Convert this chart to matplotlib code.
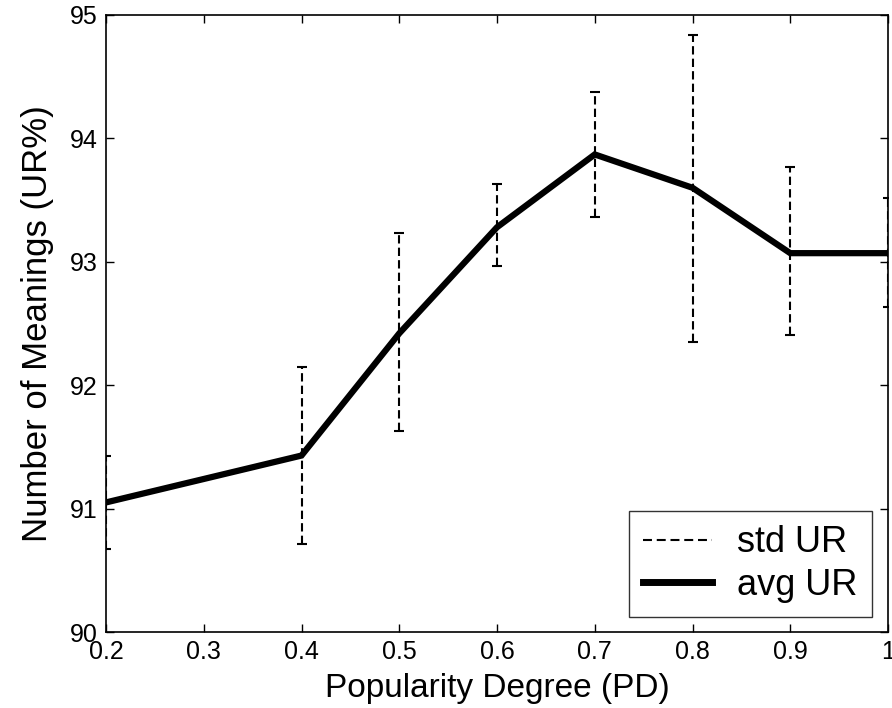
import numpy as np
import matplotlib.pyplot as plt
from matplotlib.lines import Line2D

plt.rcParams['font.family'] = ['Liberation Sans', 'DejaVu Sans']

# popularity degree values and measured UR (%)
pd_values = [0.2, 0.4, 0.5, 0.6, 0.7, 0.8, 0.9, 1.0]
avg_ur = [91.05, 91.43, 92.42, 93.28, 93.87, 93.60, 93.07, 93.07]
upper_ur = [91.43, 92.15, 93.23, 93.63, 94.38, 94.84, 93.77, 93.52]
lower_ur = [90.67, 90.71, 91.63, 92.97, 93.36, 92.35, 92.41, 92.63]

x_ticks = [0.2, 0.3, 0.4, 0.5, 0.6, 0.7, 0.8, 0.9, 1.0]
x_ticklabels = ['0.2', '0.3', '0.4', '0.5', '0.6', '0.7', '0.8', '0.9', '1']
y_ticks = [90, 91, 92, 93, 94, 95]

avg = np.array(avg_ur)
yerr = [avg - np.array(lower_ur), np.array(upper_ur) - avg]

fig = plt.figure(figsize=(8.92, 7.08), dpi=100)
ax = fig.add_axes([106 / 892, 76 / 708, 782 / 892, 617 / 708])

eb = ax.errorbar(pd_values, avg, yerr=yerr, fmt='none', ecolor='black',
                 elinewidth=1.5, capsize=3.5, capthick=1.5)
for col in eb[2]:
    col.set_linestyle((0, (4, 2)))

ax.plot(pd_values, avg, color='black', lw=4.5, solid_joinstyle='miter')

ax.set_xlim(0.2, 1.0)
ax.set_ylim(90, 95)
ax.set_xticks(x_ticks)
ax.set_xticklabels(x_ticklabels)
ax.set_yticks(y_ticks)
ax.tick_params(direction='in', top=True, right=True, length=6, width=1,
               labelsize=18, pad=6)
for s in ax.spines.values():
    s.set_linewidth(1.2)

ax.set_xlabel('Popularity Degree (PD)', fontsize=24)
ax.xaxis.set_label_coords(0.5, -0.066)
ax.set_ylabel('Number of Meanings (UR%)', fontsize=25)
ax.yaxis.set_label_coords(-0.066, 0.5)

handles = [Line2D([], [], color='black', lw=1.5, linestyle=(0, (4.3, 2.3))),
           Line2D([], [], color='black', lw=5)]
leg = ax.legend(handles, ['std UR', 'avg UR'], loc='lower right',
                bbox_to_anchor=(0.9795, 0.0243), borderaxespad=0,
                fontsize=26, frameon=True, fancybox=False, edgecolor='black',
                handlelength=1.9, handletextpad=0.7, borderpad=0.4,
                labelspacing=0.2)
leg.get_frame().set_linewidth(1.0)

fig.savefig('out.png', dpi=100)
